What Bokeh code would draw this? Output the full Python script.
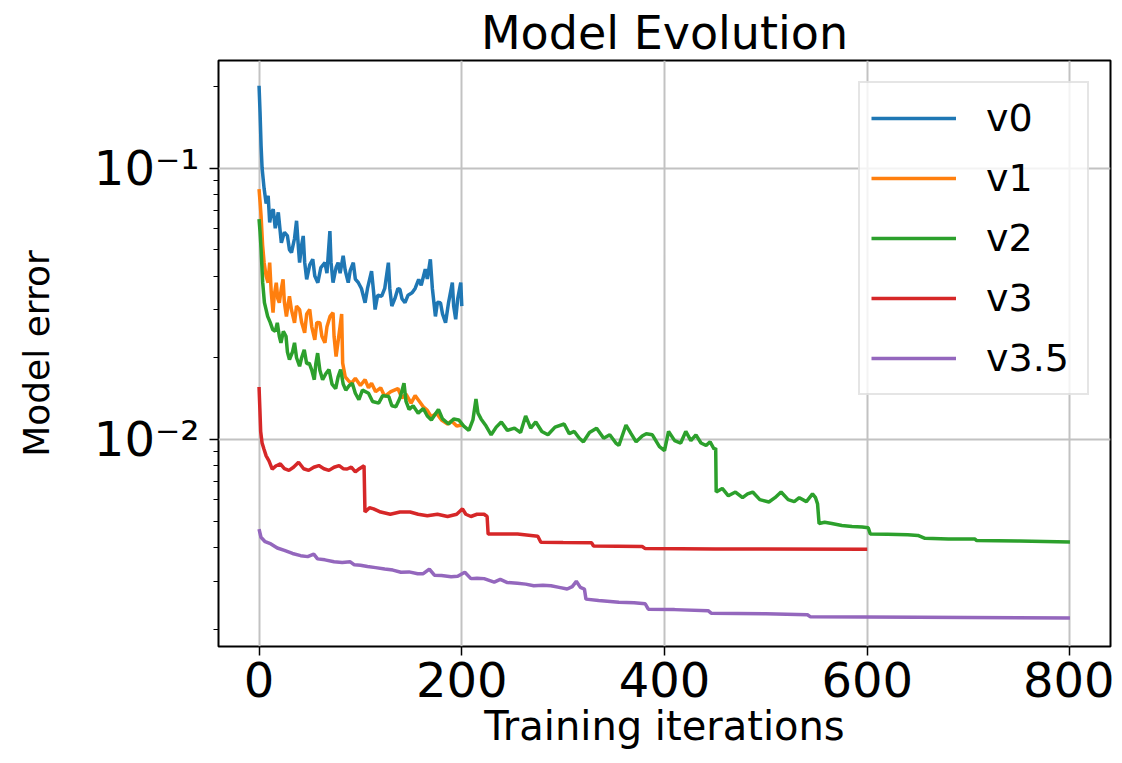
from bokeh.plotting import figure
from bokeh.models import Range1d, FixedTicker, CustomJSTickFormatter
from bokeh.embed import file_html
from bokeh.resources import INLINE

# ---------------- data ----------------
series_names = ["v0", "v1", "v2", "v3", "v3.5"]
series_colors = ["#1f77b4", "#ff7f0e", "#2ca02c", "#d62728", "#9467bd"]

v0_x = [0, 1, 2, 3, 5, 7, 9, 10.5, 12, 14, 16, 19, 22, 25, 28, 30, 32, 35, 37, 39, 40, 42, 43.6,
        45, 47, 50, 53, 55, 58, 61, 65, 67, 69.9, 71, 73, 76, 78, 80, 83, 85, 88, 90, 93, 95, 98,
        101, 104.6, 107, 111, 113, 114.5, 117, 121, 124, 127.6, 129, 131, 134, 137, 139, 141, 144,
        147, 151, 154, 157.5, 160, 164, 166, 169, 171, 174, 176, 179, 181, 184, 187, 190.7, 192,
        194, 196, 199, 200]
v0_y = [0.201, 0.16, 0.121, 0.10, 0.084, 0.074, 0.079, 0.063, 0.068, 0.0705, 0.060, 0.0686, 0.053,
        0.058, 0.0562, 0.050, 0.0488, 0.055, 0.0639, 0.050, 0.0448, 0.052, 0.0562, 0.045, 0.0389,
        0.044, 0.0461, 0.040, 0.0378, 0.043, 0.0448, 0.041, 0.0586, 0.045, 0.0378, 0.043, 0.0448,
        0.041, 0.0475, 0.042, 0.0378, 0.042, 0.0448, 0.039, 0.0378, 0.036, 0.0319, 0.036, 0.0417,
        0.035, 0.0301, 0.034, 0.0337, 0.036, 0.0448, 0.036, 0.031, 0.033, 0.036, 0.0357, 0.033,
        0.0319, 0.034, 0.0347, 0.036, 0.0389, 0.037, 0.0424, 0.039, 0.0461, 0.036, 0.0284, 0.032,
        0.0319, 0.029, 0.0269, 0.032, 0.0378, 0.031, 0.0277, 0.033, 0.0378, 0.031]

v1_x = [0, 1, 2, 3.5, 5, 7, 8.9, 10.5, 12, 13.8, 15, 17, 18.5, 20, 22, 23.7, 25, 27, 29, 30, 32,
        35, 37, 40, 42, 45, 47, 50, 52, 55, 57, 60, 62, 65, 67, 70, 73, 74, 76, 78, 80, 81.5, 82.5,
        85, 88, 91, 95, 100, 104.6, 108, 111, 115, 120, 124, 130, 137, 141, 145, 150, 154, 157,
        162, 166, 170, 175, 180, 186, 190, 195, 200]
v1_y = [0.0836, 0.075, 0.0667, 0.052, 0.0448, 0.040, 0.0378, 0.0448, 0.035, 0.0293, 0.034, 0.0378,
        0.033, 0.0319, 0.036, 0.0389, 0.032, 0.0284, 0.032, 0.0337, 0.030, 0.0269, 0.031, 0.0301,
        0.027, 0.0247, 0.029, 0.0301, 0.026, 0.0233, 0.027, 0.0269, 0.024, 0.0227, 0.026, 0.0284,
        0.0293, 0.024, 0.0202, 0.023, 0.0262, 0.029, 0.0191, 0.017, 0.0165, 0.0161, 0.0168, 0.0158,
        0.0166, 0.0155, 0.0161, 0.015, 0.0155, 0.0144, 0.015, 0.0154, 0.0142, 0.0147, 0.0136,
        0.0145, 0.014, 0.0132, 0.0128, 0.0121, 0.0125, 0.0118, 0.0114, 0.0117, 0.0112, 0.0113]

v2_x = [0, 1, 2, 3.6, 5.3, 7, 8.5, 11, 13.5, 16, 18, 20, 21.6, 24, 26.6, 28, 30, 33, 35, 37, 40,
        42, 44.6, 47, 49.5, 52, 54.5, 56, 57.8, 60, 62.7, 66, 69, 72, 75.6, 78, 80.5, 83, 85.6, 89,
        92, 95, 98.5, 102, 108, 112, 118, 122, 128, 131, 135, 139, 143, 145, 148, 152, 157, 162,
        166, 170, 174, 177, 181, 187, 192, 197, 202, 207, 211, 214, 216, 219, 224, 229, 234, 239,
        245, 252, 258, 263, 268, 273, 279, 285, 292, 301, 306, 311, 316, 320, 326, 333, 340, 346,
        352, 355, 362, 367, 372, 378, 382, 388, 395, 400, 404, 410, 416, 421, 426, 431, 436, 441,
        445, 449, 450.5, 451, 457, 463, 470, 477, 482, 487, 494, 503, 509, 515, 522, 528, 533, 540,
        546, 549, 551, 552.5, 558, 565, 575, 585, 595, 601, 603, 620, 640, 650, 657, 680, 706, 708,
        750, 800]
v2_y = [0.0648, 0.058, 0.0502, 0.0378, 0.0319, 0.030, 0.0284, 0.027, 0.0254, 0.025, 0.0269, 0.024,
        0.0227, 0.025, 0.024, 0.021, 0.0197, 0.021, 0.0227, 0.020, 0.0186, 0.020, 0.0214, 0.019,
        0.0191, 0.018, 0.0166, 0.019, 0.0208, 0.018, 0.0166, 0.0175, 0.0181, 0.016, 0.0154, 0.017,
        0.0181, 0.016, 0.0152, 0.0158, 0.0161, 0.0148, 0.014, 0.0152, 0.0148, 0.0138, 0.0136,
        0.0145, 0.0144, 0.0133, 0.0132, 0.0142, 0.0161, 0.0138, 0.0129, 0.0133, 0.0125, 0.013,
        0.0122, 0.0118, 0.0124, 0.0129, 0.0119, 0.0114, 0.0119, 0.0118, 0.0112, 0.0108, 0.0118,
        0.0141, 0.0125, 0.0119, 0.0112, 0.0104, 0.0111, 0.0116, 0.0108, 0.011, 0.0106, 0.0122,
        0.011, 0.0116, 0.0107, 0.0104, 0.0111, 0.0114, 0.0105, 0.0107, 0.0101, 0.0098, 0.0106,
        0.011, 0.0101, 0.0104, 0.0097, 0.0095, 0.0113, 0.0105, 0.0098, 0.0103, 0.0105, 0.0104,
        0.0094, 0.0091, 0.0107, 0.0099, 0.0097, 0.0107, 0.0099, 0.0104, 0.0097, 0.0095, 0.0098,
        0.0092, 0.0093, 0.0064, 0.0066, 0.0062, 0.0064, 0.0061, 0.0063, 0.0064, 0.006, 0.00588,
        0.0061, 0.0064, 0.006, 0.0059, 0.0061, 0.0059, 0.0063, 0.0061, 0.00579, 0.0049, 0.00495,
        0.0049, 0.00482, 0.00478, 0.00476, 0.00473, 0.00448, 0.00447, 0.00445, 0.00443, 0.00432,
        0.0043, 0.0043, 0.00424, 0.00422, 0.00419]

v3_x = [0, 0.8, 1.6, 3, 4.9, 7, 9.8, 13, 17, 21, 25, 29.5, 34, 39, 44, 49, 54, 59, 64, 69, 74, 79,
        83, 87, 91, 95, 99, 103.6, 104.5, 109, 113, 120, 129.5, 139, 149, 157, 166, 176, 186, 195,
        200.7, 204, 209, 215, 222, 225, 226, 240, 255, 275, 278, 300, 328, 330, 378, 381, 450, 600]
v3_y = [0.0156, 0.013, 0.0107, 0.0097, 0.0092, 0.0087, 0.00834, 0.00778, 0.0080, 0.00812, 0.0078,
        0.00769, 0.0079, 0.00824, 0.0078, 0.00769, 0.0079, 0.00801, 0.0078, 0.00769, 0.0079,
        0.00801, 0.0078, 0.00778, 0.0079, 0.00759, 0.0078, 0.0080, 0.0054, 0.0056, 0.00555, 0.0054,
        0.0053, 0.0054, 0.0054, 0.0053, 0.00523, 0.0053, 0.0052, 0.0053, 0.00555, 0.0053, 0.0052,
        0.0053, 0.0053, 0.0052, 0.00448, 0.00448, 0.00448, 0.0044, 0.00418, 0.00417, 0.00416,
        0.00405, 0.00403, 0.00396, 0.00395, 0.00394]

v35_x = [0, 1.9, 6, 11.7, 18, 25, 33, 41, 48, 54, 57.7, 65, 74, 82, 90, 94, 100, 107, 115, 124,
         132, 140, 148, 156.5, 162, 168, 173, 180, 189.5, 196, 203, 209, 215, 222, 232, 238, 245,
         255, 263, 271, 280, 288, 296, 304, 309, 313, 317, 321, 322.5, 335, 355, 370, 381, 384, 410,
         443, 446, 500, 541, 544, 650, 800]
v35_y = [0.00467, 0.00436, 0.0042, 0.00412, 0.00398, 0.0039, 0.0038, 0.00373, 0.0037, 0.00378,
         0.00363, 0.0036, 0.00354, 0.00352, 0.00354, 0.00345, 0.00344, 0.0034, 0.00337, 0.00333,
         0.0033, 0.00324, 0.00325, 0.0032, 0.0032, 0.00333, 0.00316, 0.00315, 0.00312, 0.00313,
         0.00324, 0.00307, 0.00308, 0.00307, 0.00298, 0.00305, 0.00297, 0.00295, 0.00293, 0.00289,
         0.0029, 0.00289, 0.00285, 0.00281, 0.00287, 0.0030, 0.00285, 0.00281, 0.00258, 0.00255,
         0.00251, 0.0025, 0.00248, 0.00237, 0.00236, 0.00234, 0.00229, 0.00228, 0.00226, 0.00222,
         0.00221, 0.0022]

x_ticks = [0, 200, 400, 600, 800]
y_ticks = [0.01, 0.1]
y_minor = [0.002, 0.003, 0.004, 0.005, 0.006, 0.007, 0.008, 0.009,
           0.02, 0.03, 0.04, 0.05, 0.06, 0.07, 0.08, 0.09, 0.2]

title_text = "Model Evolution"
x_label = "Training iterations"
y_label = "Model error"

# ---------------- figure ----------------
FONT = "DejaVu Sans"

p = figure(width=1114, height=755, y_axis_type="log",
           x_range=Range1d(-40, 840), y_range=Range1d(0.001726, 0.249),
           output_backend="svg", toolbar_location=None, title=title_text,
           min_border_left=218, min_border_right=4, min_border_top=60, min_border_bottom=109)

p.background_fill_color = "white"
p.border_fill_color = "white"
p.outline_line_color = "black"
p.outline_line_width = 2
p.outline_line_alpha = 1

p.title.text_font = FONT
p.title.text_font_size = "46px"
p.title.text_font_style = "normal"
p.title.text_color = "black"
p.title.align = "center"
p.title.standoff = 2
p.title.offset = 0

all_x = [v0_x, v1_x, v2_x, v3_x, v35_x]
all_y = [v0_y, v1_y, v2_y, v3_y, v35_y]
for xs, ys, name, col in zip(all_x, all_y, series_names, series_colors):
    p.line(xs, ys, line_color=col, line_width=3.5, legend_label=name)

# axes
p.xaxis.ticker = FixedTicker(ticks=x_ticks, minor_ticks=[])
p.yaxis.ticker = FixedTicker(ticks=y_ticks, minor_ticks=y_minor)
p.yaxis.formatter = CustomJSTickFormatter(code="""
const sup = {'-':'\u207b','0':'\u2070','1':'\u00b9','2':'\u00b2','3':'\u00b3','4':'\u2074'};
const e = Math.round(Math.log10(tick));
return '10' + String(e).split('').map(c => sup[c]).join('');
""")
for ax in (p.xaxis, p.yaxis):
    ax.axis_line_color = None
    ax.major_tick_line_color = "black"
    ax.minor_tick_line_color = "black"
    ax.major_tick_line_width = 1.5
    ax.minor_tick_line_width = 1.2
    ax.major_tick_out = 9
    ax.major_tick_in = 0
    ax.minor_tick_out = 5
    ax.minor_tick_in = 0
    ax.major_label_text_font = FONT
    ax.major_label_text_color = "black"
    ax.axis_label_text_font = FONT
    ax.axis_label_text_font_style = "normal"
    ax.axis_label_text_color = "black"

p.xaxis.axis_label = x_label
p.yaxis.axis_label = y_label
p.xaxis.major_label_text_font_size = "48px"
p.yaxis.major_label_text_font_size = "48px"
p.xaxis.axis_label_text_font_size = "40px"
p.yaxis.axis_label_text_font_size = "36px"
p.xaxis.major_label_standoff = 6
p.xaxis.axis_label_standoff = 3
p.yaxis.major_label_standoff = 10
p.yaxis.axis_label_standoff = 34

# grid
p.xgrid.grid_line_color = "#c2c2c2"
p.ygrid.grid_line_color = "#c2c2c2"
p.xgrid.grid_line_width = 2
p.ygrid.grid_line_width = 2
p.ygrid.minor_grid_line_color = None

# legend
lg = p.legend[0]
lg.location = "top_right"
lg.margin = 21
lg.padding = 11
lg.spacing = 12
lg.glyph_width = 85
lg.glyph_height = 48
lg.label_height = 48
lg.label_width = 90
lg.label_standoff = 30
lg.label_text_font = FONT
lg.label_text_font_size = "38px"
lg.label_text_color = "black"
lg.border_line_color = "#cccccc"
lg.border_line_width = 2
lg.background_fill_color = "white"
lg.background_fill_alpha = 0.8

open("out.html", "w").write(file_html(p, INLINE))
